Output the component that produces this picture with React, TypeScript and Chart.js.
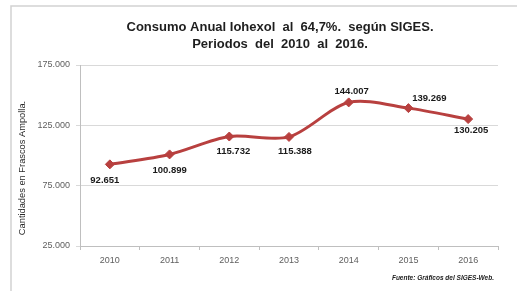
import { useEffect, useRef } from 'react';
import { Chart, registerables } from 'chart.js';

Chart.register(...registerables);

const years = ['2010', '2011', '2012', '2013', '2014', '2015', '2016'];
const consumo = [92651, 100899, 115732, 115388, 144007, 139269, 130205];
const yTicks = [25000, 75000, 125000, 175000];
const titleLines = ['Consumo Anual Iohexol  al  64,7%.  según SIGES.', 'Periodos  del  2010  al  2016.'];
const yAxisTitle = 'Cantidades en Frascos Ampolla.';
const sourceNote = 'Fuente: Gráficos del SIGES-Web.';

// style: where each value label sits relative to its point [dx, dy]
const labelOffsets = [[-5, 16], [0, 16], [4, 15], [6, 14], [3, -11], [21, -10], [3, 11]];

const FONT = '"Liberation Sans", Arial, sans-serif';
const LINE_COLOR = '#B8403F';

const fmt = (v: number) => String(Math.round(v)).replace(/\B(?=(\d{3})+(?!\d))/g, '.');

const decor = {
  id: 'decor',
  beforeDraw(chart: any) {
    const { ctx, width, height } = chart;
    ctx.save();
    ctx.fillStyle = '#ffffff';
    ctx.fillRect(0, 0, width, height);
    ctx.strokeStyle = '#d2d2d2';
    ctx.lineWidth = 1.5;
    ctx.beginPath();
    ctx.moveTo(11, height);
    ctx.lineTo(11, 6);
    ctx.lineTo(width, 6);
    ctx.stroke();
    ctx.restore();
  },
  afterDraw(chart: any) {
    const { ctx } = chart;
    ctx.save();
    ctx.fillStyle = '#1e1e1e';
    ctx.font = `bold 13px ${FONT}`;
    ctx.textAlign = 'center';
    ctx.textBaseline = 'middle';
    ctx.fillText(titleLines[0], 280, 27);
    ctx.fillText(titleLines[1], 280, 44);

    ctx.save();
    ctx.translate(22, 168);
    ctx.rotate(-Math.PI / 2);
    ctx.font = `9.3px ${FONT}`;
    ctx.fillStyle = '#2a2a2a';
    ctx.fillText(yAxisTitle, 0, 0);
    ctx.restore();

    ctx.font = `italic bold 6.5px ${FONT}`;
    ctx.textAlign = 'right';
    ctx.fillStyle = '#222222';
    ctx.fillText(sourceNote, 494, 278);

    const meta = chart.getDatasetMeta(0);
    ctx.font = `bold 9.5px ${FONT}`;
    ctx.textAlign = 'center';
    ctx.fillStyle = '#1a1a1a';
    meta.data.forEach((pt: any, i: number) => {
      const [dx, dy] = labelOffsets[i];
      ctx.fillText(fmt(consumo[i]), pt.x + dx, pt.y + dy);
    });
    ctx.restore();
  },
};

export default function App() {
  const ref = useRef<HTMLCanvasElement>(null);
  useEffect(() => {
    document.body.style.margin = '0';
    const chart = new Chart(ref.current!, {
      type: 'line',
      data: {
        labels: years,
        datasets: [
          {
            data: consumo,
            borderColor: LINE_COLOR,
            backgroundColor: LINE_COLOR,
            borderWidth: 3,
            tension: 0.3,
            pointStyle: 'rectRot',
            pointRadius: 4.5,
            pointBackgroundColor: LINE_COLOR,
            pointBorderColor: LINE_COLOR,
            pointBorderWidth: 1,
          },
        ],
      },
      options: {
        responsive: false,
        animation: false,
        layout: { padding: { left: 0, top: 65, right: 19, bottom: 0 } },
        plugins: {
          legend: { display: false },
          tooltip: { enabled: false },
          title: { display: false },
        },
        scales: {
          x: {
            offset: true,
            afterFit: (s: any) => {
              s.height = 45;
            },
            grid: {
              display: true,
              offset: true,
              drawOnChartArea: false,
              tickLength: 4,
              color: '#bfbfbf',
            },
            border: { display: true, color: '#bfbfbf', width: 1 },
            ticks: {
              color: '#606060',
              font: { family: FONT, size: 9 },
              padding: 5,
              maxRotation: 0,
            },
          },
          y: {
            min: 25000,
            max: 175000,
            afterFit: (s: any) => {
              s.width = 80;
            },
            afterBuildTicks: (s: any) => {
              s.ticks = yTicks.map((v) => ({ value: v }));
            },
            grid: {
              color: '#d9d9d9',
              tickLength: 4,
              lineWidth: 1,
            },
            border: { display: true, color: '#bfbfbf', width: 1 },
            ticks: {
              color: '#606060',
              font: { family: FONT, size: 9 },
              padding: 6,
              callback: (v: any) => fmt(Number(v)),
            },
          },
        },
      },
      plugins: [decor],
    });
    return () => chart.destroy();
  }, []);
  return <canvas ref={ref} width={517} height={291} style={{ display: 'block' }} />;
}
